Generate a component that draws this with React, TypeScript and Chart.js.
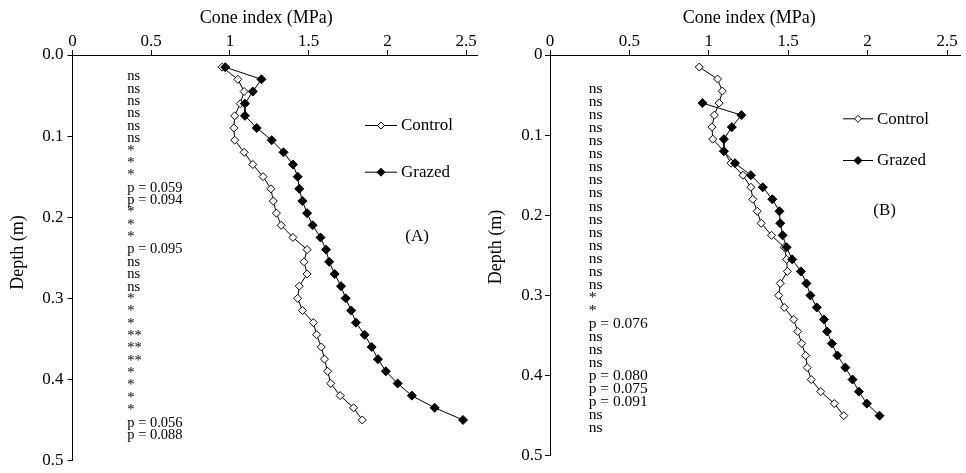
import React, { useEffect, useRef } from 'react';
import { Chart, registerables } from 'chart.js';

Chart.register(...registerables);

// ---------- data ----------
const xTicks = [0, 0.5, 1, 1.5, 2, 2.5];
const yTicks = [0, 0.1, 0.2, 0.3, 0.4, 0.5];

const depthsA = [0.015, 0.03, 0.045, 0.06, 0.075, 0.09, 0.105, 0.12, 0.135, 0.15, 0.165, 0.18, 0.195, 0.21, 0.225, 0.24, 0.255, 0.27, 0.285, 0.3, 0.315, 0.33, 0.345, 0.36, 0.375, 0.39, 0.405, 0.42, 0.435, 0.45];
const controlA = [0.95, 1.05, 1.09, 1.065, 1.03, 1.025, 1.03, 1.09, 1.145, 1.21, 1.26, 1.275, 1.295, 1.325, 1.4, 1.49, 1.47, 1.49, 1.44, 1.43, 1.46, 1.53, 1.55, 1.58, 1.6, 1.62, 1.64, 1.7, 1.785, 1.84];
const grazedA = [0.97, 1.2, 1.145, 1.095, 1.095, 1.17, 1.265, 1.34, 1.4, 1.43, 1.44, 1.46, 1.49, 1.525, 1.575, 1.61, 1.63, 1.665, 1.705, 1.735, 1.77, 1.8, 1.855, 1.9, 1.94, 1.99, 2.065, 2.155, 2.3, 2.48];
const notesA = ['ns', 'ns', 'ns', 'ns', 'ns', 'ns', '*', '*', '*', 'p = 0.059', 'p = 0.094', '*', '*', '*', 'p = 0.095', 'ns', 'ns', 'ns', '*', '*', '*', '**', '**', '**', '*', '*', '*', '*', 'p = 0.056', 'p = 0.088'];

const depthsControlB = [0.015, 0.03, 0.045, 0.06, 0.075, 0.09, 0.105, 0.12, 0.135, 0.15, 0.165, 0.18, 0.195, 0.21, 0.225, 0.24, 0.255, 0.27, 0.285, 0.3, 0.315, 0.33, 0.345, 0.36, 0.375, 0.39, 0.405, 0.42, 0.435, 0.45];
const controlB = [0.94, 1.055, 1.085, 1.065, 1.035, 1.02, 1.025, 1.095, 1.14, 1.215, 1.265, 1.277, 1.305, 1.33, 1.395, 1.475, 1.49, 1.495, 1.45, 1.44, 1.475, 1.535, 1.56, 1.585, 1.61, 1.62, 1.645, 1.705, 1.79, 1.85];
const depthsGrazedB = [0.06, 0.075, 0.09, 0.105, 0.12, 0.135, 0.15, 0.165, 0.18, 0.195, 0.21, 0.225, 0.24, 0.255, 0.27, 0.285, 0.3, 0.315, 0.33, 0.345, 0.36, 0.375, 0.39, 0.405, 0.42, 0.435, 0.45];
const grazedB = [0.96, 1.205, 1.145, 1.095, 1.095, 1.165, 1.265, 1.34, 1.4, 1.445, 1.45, 1.465, 1.49, 1.525, 1.58, 1.615, 1.64, 1.68, 1.725, 1.745, 1.775, 1.81, 1.86, 1.905, 1.945, 1.995, 2.075];
const notesB = ['ns', 'ns', 'ns', 'ns', 'ns', 'ns', 'ns', 'ns', 'ns', 'ns', 'ns', 'ns', 'ns', 'ns', 'ns', 'ns', '*', '*', 'p = 0.076', 'ns', 'ns', 'ns', 'p = 0.080', 'p = 0.075', 'p = 0.091', 'ns', 'ns'];

const seriesNames = ['Control', 'Grazed'];
const xTitle = 'Cone index (MPa)';
const yTitle = 'Depth (m)';

// ---------- drawing ----------
const FONT = '"Liberation Serif", "Times New Roman", serif';
const W = 483;
const H = 473;

type PanelCfg = {
  left: number;
  control: number[];
  controlDepths: number[];
  grazed: number[];
  grazedDepths: number[];
  notes: string[];
  label: string;
  yFmt: (v: number) => string;
  yAxisWidth: number;
  yPad: number;
  bottomPad: number;
  xMax: number;
  noteX: number;
  noteStart: number;
  noteStep: number;
  noteFont: number;
  titleX: number;
  titleY: number;
  depthX: number;
  depthY: number;
  labelX: number;
  labelY: number;
  legX0: number;
  legX1: number;
  legYs: number[];
};

function diamond(ctx: CanvasRenderingContext2D, x: number, y: number, r: number, fill: string) {
  ctx.beginPath();
  ctx.moveTo(x, y - r);
  ctx.lineTo(x + r, y);
  ctx.lineTo(x, y + r);
  ctx.lineTo(x - r, y);
  ctx.closePath();
  ctx.fillStyle = fill;
  ctx.fill();
  ctx.lineWidth = 1;
  ctx.strokeStyle = '#000';
  ctx.stroke();
}

function makeOverlay(p: PanelCfg) {
  return {
    id: 'overlay',
    afterDraw(chart: any) {
      const ctx: CanvasRenderingContext2D = chart.ctx;
      const xs = chart.scales.x;
      const ys = chart.scales.y;
      ctx.save();
      ctx.fillStyle = '#000';
      // significance notes
      ctx.font = `${p.noteFont}px ${FONT}`;
      ctx.textAlign = 'left';
      ctx.textBaseline = 'alphabetic';
      const nx = xs.getPixelForValue(p.noteX);
      p.notes.forEach((t, i) => {
        ctx.fillText(t, nx, ys.getPixelForValue(p.noteStart + i * p.noteStep));
      });
      // axis titles
      ctx.font = `18px ${FONT}`;
      ctx.textAlign = 'center';
      ctx.textBaseline = 'middle';
      ctx.fillText(xTitle, xs.getPixelForValue(p.titleX), p.titleY);
      ctx.save();
      ctx.translate(p.depthX, p.depthY);
      ctx.rotate(-Math.PI / 2);
      ctx.fillText(yTitle, 0, 0);
      ctx.restore();
      // panel label
      ctx.font = `17px ${FONT}`;
      ctx.fillText(p.label, xs.getPixelForValue(p.labelX), ys.getPixelForValue(p.labelY));
      // legend
      seriesNames.forEach((name, i) => {
        const y = p.legYs[i];
        ctx.beginPath();
        ctx.moveTo(p.legX0, y + 0.5);
        ctx.lineTo(p.legX1, y + 0.5);
        ctx.lineWidth = 1;
        ctx.strokeStyle = '#000';
        ctx.stroke();
        diamond(ctx, (p.legX0 + p.legX1) / 2, y + 0.5, i === 0 ? 3.5 : 4, i === 0 ? '#fff' : '#000');
        ctx.fillStyle = '#000';
        ctx.font = `17px ${FONT}`;
        ctx.textAlign = 'left';
        ctx.textBaseline = 'middle';
        ctx.fillText(name, p.legX1 + 4, y + 1);
      });
      ctx.restore();
    },
  };
}

function Panel({ p }: { p: PanelCfg }) {
  const ref = useRef<HTMLCanvasElement>(null);
  useEffect(() => {
    const tickFont = { family: FONT, size: 17, lineHeight: 1 };
    const grid = { drawOnChartArea: false, drawTicks: true, tickLength: 5, color: '#000', lineWidth: 1 };
    const border = { display: true, color: '#000', width: 1 };
    const chart = new Chart(ref.current as HTMLCanvasElement, {
      type: 'scatter',
      data: {
        datasets: [
          {
            label: seriesNames[0],
            data: p.control.map((v, i) => ({ x: v, y: p.controlDepths[i] })),
            showLine: true,
            borderColor: '#000',
            borderWidth: 1,
            pointStyle: 'rectRot',
            pointRadius: 4,
            pointBackgroundColor: '#fff',
            pointBorderColor: '#000',
            pointBorderWidth: 1,
            order: 1,
          },
          {
            label: seriesNames[1],
            data: p.grazed.map((v, i) => ({ x: v, y: p.grazedDepths[i] })),
            showLine: true,
            borderColor: '#000',
            borderWidth: 1,
            pointStyle: 'rectRot',
            pointRadius: 4.5,
            pointBackgroundColor: '#000',
            pointBorderColor: '#000',
            pointBorderWidth: 1,
            order: 0,
          },
        ],
      },
      options: {
        responsive: false,
        animation: false,
        devicePixelRatio: 1,
        layout: { padding: { left: 0, right: 0, top: 0, bottom: p.bottomPad } },
        plugins: { legend: { display: false }, tooltip: { enabled: false } },
        scales: {
          x: {
            type: 'linear',
            position: 'top',
            min: 0,
            max: p.xMax,
            afterBuildTicks: (s: any) => {
              s.ticks = xTicks.map((v) => ({ value: v }));
            },
            afterFit: (s: any) => {
              s.height = 55;
            },
            ticks: {
              font: tickFont,
              color: '#000',
              padding: 0,
              maxRotation: 0,
              autoSkip: false,
              callback: (v: any) => String(v),
            },
            grid,
            border,
          },
          y: {
            type: 'linear',
            position: 'left',
            reverse: true,
            min: 0,
            max: 0.5,
            afterBuildTicks: (s: any) => {
              s.ticks = yTicks.map((v) => ({ value: v }));
            },
            afterFit: (s: any) => {
              s.width = p.yAxisWidth;
            },
            ticks: {
              font: tickFont,
              color: '#000',
              padding: p.yPad,
              autoSkip: false,
              callback: (v: any) => p.yFmt(Number(v)),
            },
            grid,
            border,
          },
        },
      } as any,
      plugins: [makeOverlay(p) as any],
    });
    return () => chart.destroy();
  }, []);
  return (
    <canvas
      ref={ref}
      width={W}
      height={H}
      style={{ position: 'absolute', left: p.left, top: 0, width: W, height: H, display: 'block' }}
    />
  );
}

const panelA: PanelCfg = {
  left: 0,
  control: controlA,
  controlDepths: depthsA,
  grazed: grazedA,
  grazedDepths: depthsA,
  notes: notesA,
  label: '(A)',
  yFmt: (v) => v.toFixed(1),
  yAxisWidth: 72.5,
  yPad: 4,
  bottomPad: 9.7,
  xMax: 2.572,
  noteX: 0.348,
  noteStart: 0.0312,
  noteStep: 0.01525,
  noteFont: 14.5,
  titleX: 1.231,
  titleY: 18.3,
  depthX: 18.3,
  depthY: 252.5,
  labelX: 2.188,
  labelY: 0.224,
  legX0: 365,
  legX1: 397,
  legYs: [125, 171.7],
};

const panelB: PanelCfg = {
  left: 483,
  control: controlB,
  controlDepths: depthsControlB,
  grazed: grazedB,
  grazedDepths: depthsGrazedB,
  notes: notesB,
  label: '(B)',
  yFmt: (v) => (v === 0 ? '0' : v.toFixed(1)),
  yAxisWidth: 67,
  yPad: 2.5,
  bottomPad: 17.3,
  xMax: 2.585,
  noteX: 0.244,
  noteStart: 0.0478,
  noteStep: 0.01625,
  noteFont: 15.5,
  titleX: 1.254,
  titleY: 18,
  depthX: 13.7,
  depthY: 247,
  labelX: 2.107,
  labelY: 0.1935,
  legX0: 360,
  legX1: 390,
  legYs: [118.3, 160],
};

export default function App() {
  return (
    <div style={{ position: 'absolute', left: 0, top: 0, width: 966, height: 473, background: '#fff' }}>
      <Panel p={panelA} />
      <Panel p={panelB} />
    </div>
  );
}
